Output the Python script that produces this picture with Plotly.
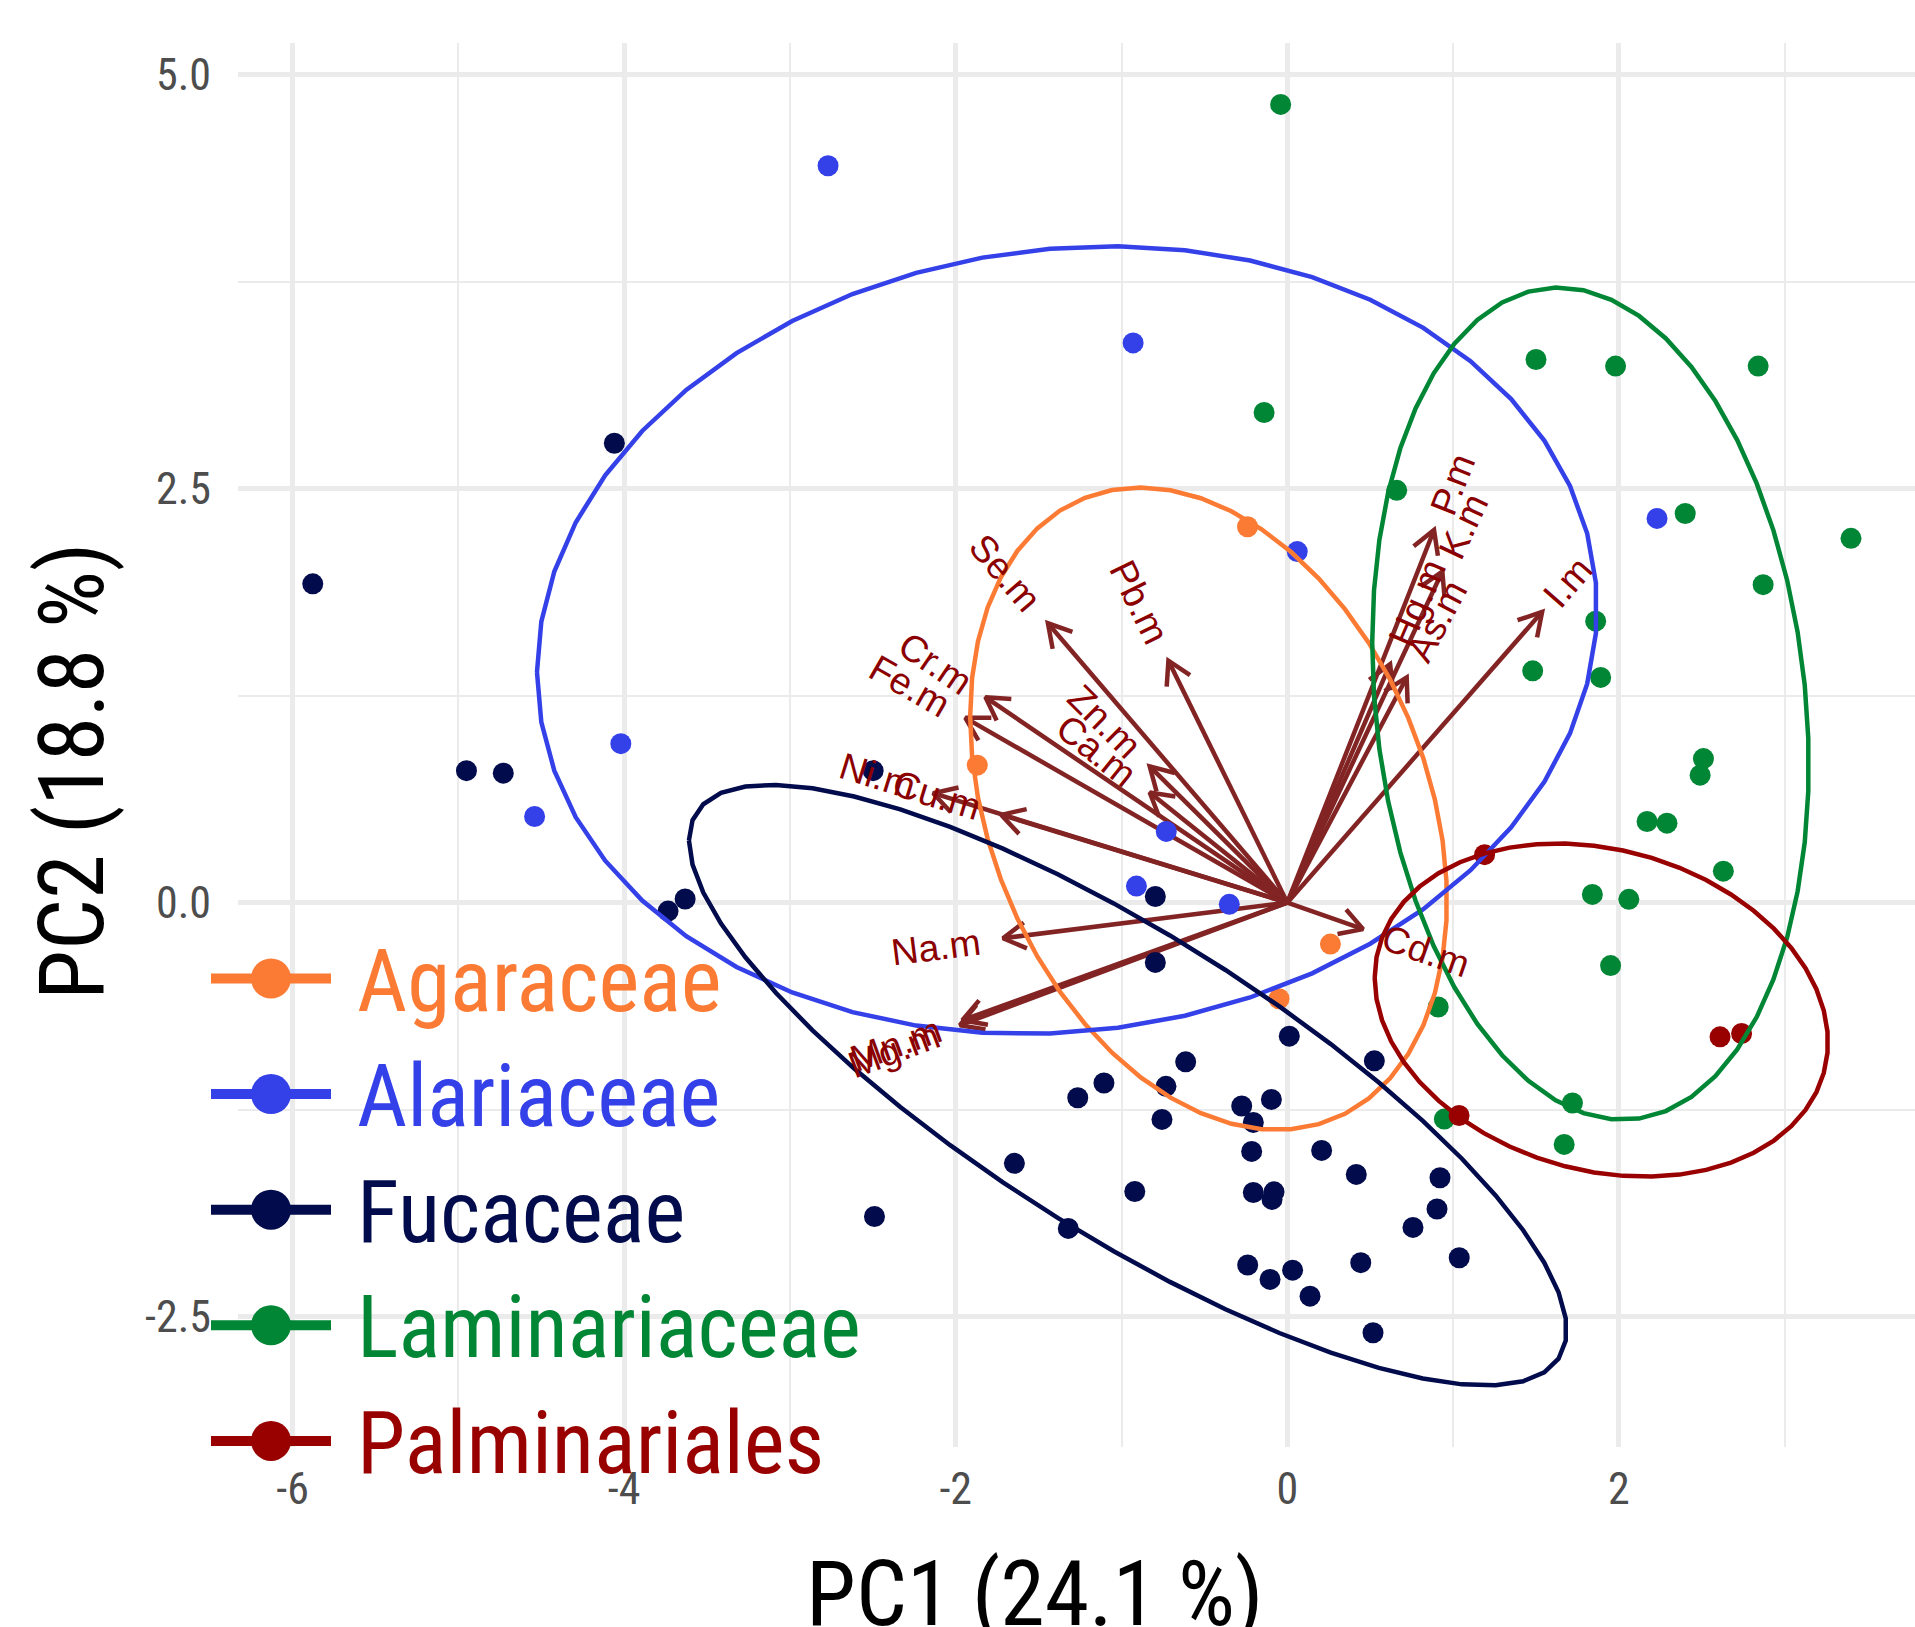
import numpy as np
import plotly.graph_objects as go

# ---------------- data ----------------
groups = ["Agaraceae", "Alariaceae", "Fucaceae", "Laminariaceae", "Palminariales"]
group_colors = ["#FC7B34", "#3440E8", "#020B4B", "#018636", "#990000"]

agar_x = [-0.24, -1.87, 0.26, -0.05]
agar_y = [2.27, 0.83, -0.25, -0.58]

alar_x = [-2.77, -0.93, 0.06, -4.02, -4.54, -0.73, -0.91, -0.35, 2.23]
alar_y = [4.45, 3.38, 2.12, 0.96, 0.52, 0.43, 0.10, -0.01, 2.32]

fuc_x = [0.012, 0.525, -0.613, -1.106, -1.264, -0.732, -0.756, -0.275, -0.096, -0.205,
         -0.215, 0.207, -1.646, 0.416, 0.921, -0.920, -0.205, -0.080, -0.092, 0.903,
         -1.321, 0.758, 1.037, 0.443, -0.239, 0.032, -0.104, 0.137, 0.517,
         -5.878, -4.059, -4.951, -4.729, -2.498, -3.735, -3.632, -0.796, -0.796, -2.490]
fuc_y = [-0.806, -0.955, -0.961, -1.089, -1.178, -1.109, -1.309, -1.228, -1.188, -1.327,
         -1.502, -1.496, -1.574, -1.641, -1.661, -1.744, -1.750, -1.746, -1.792, -1.850,
         -1.967, -1.961, -2.144, -2.174, -2.188, -2.219, -2.275, -2.376, -2.597,
         1.925, 2.774, 0.797, 0.782, 0.797, -0.051, 0.022, 0.037, -0.361, -1.895]

lam_x = [-0.04, -0.14, 0.66, 1.50, 1.98, 2.84, 2.40, 3.40, 2.87, 1.86, 1.48, 1.89,
         2.51, 2.49, 2.17, 2.29, 2.63, 1.84, 2.06, 1.95, 0.91, 1.72, 0.947, 1.67]
lam_y = [4.82, 2.96, 2.49, 3.28, 3.24, 3.24, 2.35, 2.20, 1.92, 1.70, 1.40, 1.36,
         0.87, 0.77, 0.49, 0.48, 0.19, 0.05, 0.02, -0.38, -0.63, -1.21, -1.307, -1.46]

palm_x = [1.19, 2.61, 2.74, 1.036]
palm_y = [0.29, -0.81, -0.79, -1.285]

group_x = [agar_x, alar_x, fuc_x, lam_x, palm_x]
group_y = [agar_y, alar_y, fuc_y, lam_y, palm_y]

var_names = ["Se.m", "Pb.m", "Cr.m", "Fe.m", "Zn.m", "Ca.m", "Ni.m", "Cu.m", "Na.m",
             "Mn.m", "Mg.m", "Cd.m", "I.m", "P.m", "K.m", "Hg.m", "As.m"]
var_x = [-1.444, -0.717, -1.821, -1.942, -0.830, -0.830, -2.136, -1.725, -1.715,
         -1.960, -1.975, 0.457, 1.537, 0.885, 0.935, 0.620, 0.720]
var_y = [1.687, 1.461, 1.241, 1.116, 0.823, 0.665, 0.661, 0.530, -0.215,
         -0.710, -0.740, -0.160, 1.756, 2.250, 2.000, 1.440, 1.360]

ellipse_prob = 0.68

x_tick_vals = [-6, -4, -2, 0, 2]
x_tick_text = ["-6", "-4", "-2", "0", "2"]
x_minor_vals = [-5, -3, -1, 1, 3]
y_tick_vals = [5.0, 2.5, 0.0, -2.5]
y_tick_text = ["5.0", "2.5", "0.0", "-2.5"]
y_minor_vals = [3.75, 1.25, -1.25]

x_title = "PC1 (24.1 %)"
y_title = "PC2 (18.8 %)"

# ---------------- layout constants ----------------
W, H = 1915, 1627
ML, MR, MT, MB = 238, 0, 43, 180
PW, PH = W - ML - MR, H - MT - MB
X_RANGE = [-6.329, 3.786]
Y_RANGE = [-3.287, 5.191]
px_per_unit = PW / (X_RANGE[1] - X_RANGE[0])

NARROW = "Liberation Sans Narrow, Roboto Condensed, DejaVu Sans Condensed, Roboto, sans-serif"
ARIAL = "Liberation Sans, Arial, sans-serif"

ARROW_COL = "#832424"
LABEL_COL = "#8B0000"
LABEL_SIZE = 37.5
ARROW_W = 4.5
HEAD_LEN_PX = 26

def paper_x(px):
    return (px - ML) / PW

def paper_y(py):
    return (MT + PH - py) / PH

fig = go.Figure()

# ---------------- arrows ----------------
head_len = HEAD_LEN_PX / px_per_unit
ax_, ay_ = [], []
for vx, vy in zip(var_x, var_y):
    ax_ += [0, vx, None]
    ay_ += [0, vy, None]
    ang = np.arctan2(vy, vx)
    for s in (1, -1):
        a2 = ang + np.pi + s * np.pi / 6
        ax_ += [vx + head_len * np.cos(a2)]
        ay_ += [vy + head_len * np.sin(a2)]
        if s == 1:
            ax_ += [vx]
            ay_ += [vy]
    ax_ += [None]
    ay_ += [None]
fig.add_trace(go.Scatter(x=ax_, y=ay_, mode="lines",
                         line=dict(color=ARROW_COL, width=ARROW_W),
                         hoverinfo="skip", showlegend=False))

# ---------------- points ----------------
for g, col, xs, ys in zip(groups, group_colors, group_x, group_y):
    fig.add_trace(go.Scatter(x=xs, y=ys, mode="markers", name=g,
                             marker=dict(color=col, size=21, line=dict(width=0)),
                             showlegend=False))

# ---------------- ellipses ----------------
theta = np.concatenate([np.linspace(-np.pi, np.pi, 50), np.linspace(np.pi, -np.pi, 50)])
circle = np.column_stack([np.cos(theta), np.sin(theta)])
ed = np.sqrt(-2 * np.log(1 - ellipse_prob))
for g, col, xs, ys in zip(groups, group_colors, group_x, group_y):
    xs = np.asarray(xs); ys = np.asarray(ys)
    sigma = np.cov(np.vstack([xs, ys]))
    mu = np.array([xs.mean(), ys.mean()])
    R = np.linalg.cholesky(sigma).T
    ell = circle @ R * ed + mu
    fig.add_trace(go.Scatter(x=ell[:, 0], y=ell[:, 1], mode="lines",
                             line=dict(color=col, width=4.5),
                             hoverinfo="skip", showlegend=False))

# ---------------- variable labels ----------------
char_w = {"A": 667, "C": 722, "F": 611, "H": 722, "I": 278, "K": 667, "M": 833, "N": 722,
          "P": 667, "S": 667, "Z": 611, "a": 556, "b": 556, "d": 556, "e": 556, "g": 556,
          "i": 222, "m": 833, "n": 556, "r": 333, "s": 500, "u": 556, ".": 278}
annotations = []
for name, vx, vy in zip(var_names, var_x, var_y):
    wpx = sum(char_w.get(c, 556) for c in name) / 1000 * LABEL_SIZE
    w = wpx / px_per_unit
    r = np.hypot(vx, vy)
    ux, uy = vx / r, vy / r
    cx, cy = vx + 0.75 * w * ux, vy + 0.75 * w * uy
    ang = np.degrees(np.arctan(vy / vx))
    annotations.append(dict(x=cx, y=cy, xref="x", yref="y", text=name, showarrow=False,
                            textangle=-ang, xanchor="center", yanchor="middle",
                            font=dict(family=ARIAL, size=LABEL_SIZE, color=LABEL_COL)))

# ---------------- legend (manual) ----------------
shapes = []
LEG_Y0, LEG_DY = 978.5, 115.6
for i, (g, col) in enumerate(zip(groups, group_colors)):
    py = LEG_Y0 + i * LEG_DY
    shapes.append(dict(type="line", xref="paper", yref="paper",
                       x0=paper_x(211), x1=paper_x(331), y0=paper_y(py), y1=paper_y(py),
                       line=dict(color=col, width=10), layer="above"))
    shapes.append(dict(type="circle", xref="paper", yref="paper",
                       xsizemode="pixel", ysizemode="pixel",
                       xanchor=paper_x(271), yanchor=paper_y(py),
                       x0=-20, x1=20, y0=-20, y1=20,
                       fillcolor=col, line=dict(width=0), layer="above"))
    annotations.append(dict(x=paper_x(355), y=paper_y(py + 2), xref="paper", yref="paper",
                            text=g, showarrow=False, xanchor="left", yanchor="middle",
                            font=dict(family=NARROW, size=87, color=col)))

# ---------------- axis titles ----------------
annotations.append(dict(x=paper_x(1035), y=paper_y(1594), xref="paper", yref="paper",
                        text=x_title, showarrow=False, xanchor="center", yanchor="middle",
                        font=dict(family=NARROW, size=90, color="black")))
annotations.append(dict(x=paper_x(72), y=paper_y(771), xref="paper", yref="paper",
                        text=y_title, showarrow=False, xanchor="center", yanchor="middle",
                        textangle=-90,
                        font=dict(family=NARROW, size=90, color="black")))

fig.update_layout(
    width=W, height=H,
    margin=dict(l=ML, r=MR, t=MT, b=MB, pad=0),
    paper_bgcolor="white", plot_bgcolor="white",
    showlegend=False,
    annotations=annotations, shapes=shapes,
    xaxis=dict(range=X_RANGE, tickmode="array", tickvals=x_tick_vals, ticktext=x_tick_text,
               showgrid=True, gridcolor="#EBEBEB", gridwidth=4.5, zeroline=False,
               showline=False, ticks="", ticklabelstandoff=12,
               tickfont=dict(family=NARROW, size=44, color="#4D4D4D"),
               minor=dict(tickmode="array", tickvals=x_minor_vals, showgrid=True,
                          gridcolor="#EBEBEB", gridwidth=2.3, ticks="")),
    yaxis=dict(range=Y_RANGE, tickmode="array", tickvals=y_tick_vals, ticktext=y_tick_text,
               showgrid=True, gridcolor="#EBEBEB", gridwidth=4.5, zeroline=False,
               showline=False, ticks="", ticklabelstandoff=26,
               tickfont=dict(family=NARROW, size=44, color="#4D4D4D"),
               minor=dict(tickmode="array", tickvals=y_minor_vals, showgrid=True,
                          gridcolor="#EBEBEB", gridwidth=2.3, ticks="")),
)

fig.write_html("out.html",
               config={"displayModeBar": False},
               post_script="document.body.style.margin='0';document.body.style.padding='0';")
